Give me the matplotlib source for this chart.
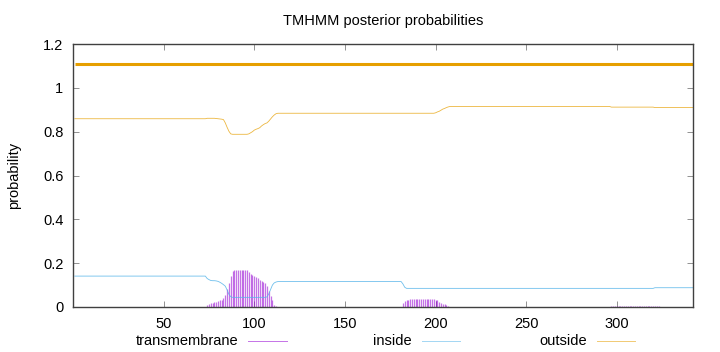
import matplotlib
matplotlib.use("Agg")
import matplotlib.pyplot as plt
from matplotlib.lines import Line2D

plt.rcParams['font.family'] = ['Liberation Sans', 'DejaVu Sans']

# posterior probabilities per residue (1..342)
residues = list(range(1, 343))

transmembrane = ([0.0] * 73
                 + [0.008, 0.012, 0.016, 0.02, 0.022, 0.024, 0.027, 0.03, 0.034, 0.04,
                    0.055, 0.08, 0.11, 0.14, 0.162, 0.168, 0.17, 0.171, 0.171, 0.171,
                    0.171, 0.17, 0.168, 0.16, 0.152, 0.147, 0.143, 0.138, 0.132, 0.125,
                    0.12, 0.115, 0.108, 0.095, 0.075, 0.05, 0.03, 0.01, 0.003]
                 + [0.0] * 69
                 + [0.02, 0.028, 0.032, 0.034] + [0.035] * 14
                 + [0.033, 0.03, 0.025, 0.02, 0.015, 0.012, 0.008, 0.004]
                 + [0.0] * 89
                 + [0.003] * 27
                 + [0.0] * 19)

inside = ([0.141] * 73
          + [0.13, 0.125, 0.121, 0.12, 0.12, 0.119, 0.117, 0.113, 0.108, 0.102,
             0.095, 0.078, 0.058, 0.047]
          + [0.044] * 19
          + [0.046, 0.06, 0.08, 0.1, 0.11, 0.114]
          + [0.116] * 69
          + [0.105, 0.09]
          + [0.085] * 137
          + [0.088] * 22)

outside = ([0.859] * 73
           + [0.861, 0.861, 0.861, 0.861, 0.861, 0.86, 0.859, 0.858, 0.857, 0.855,
              0.84, 0.82, 0.802, 0.79]
           + [0.788] * 9
           + [0.79, 0.795, 0.8, 0.807, 0.811, 0.814, 0.818, 0.826, 0.832, 0.837,
              0.84, 0.848, 0.858, 0.868, 0.876, 0.882]
           + [0.884] * 87
           + [0.886, 0.89, 0.893, 0.898, 0.903, 0.906, 0.91, 0.913]
           + [0.915] * 89
           + [0.912] * 24
           + [0.91] * 22)

# predicted topology bar (whole sequence outside)
topo_start = [1]
topo_end = [342]
topo_level = 1.11

c_tm = "#9400d3"
c_in = "#56b4e9"
c_out = "#e69f00"

fig = plt.figure(figsize=(7.2, 3.52), dpi=100)
ax = fig.add_axes([73 / 720, 1 - 307 / 352, 620 / 720, 263 / 352])

tm_x = [r for r, v in zip(residues, transmembrane) if v > 0]
tm_y = [v for v in transmembrane if v > 0]
ax.vlines(tm_x, 0, tm_y, color=c_tm, lw=0.9, alpha=0.55)
ax.plot(residues, inside, color=c_in, lw=0.6, alpha=0.85)
ax.plot(residues, outside, color=c_out, lw=0.6, alpha=0.75)
for s, e in zip(topo_start, topo_end):
    ax.plot([s, e], [topo_level, topo_level], color=c_out, lw=2.2, solid_capstyle="butt")

ax.set_xlim(0, 342)
ax.set_ylim(0, 1.2)
ax.set_xticks([50, 100, 150, 200, 250, 300])
ax.set_yticks([0, 0.2, 0.4, 0.6, 0.8, 1.0, 1.2])
ax.set_yticklabels(["0", "0.2", "0.4", "0.6", "0.8", "1", "1.2"])
ax.tick_params(direction="in", length=4, width=0.6, top=True, right=True,
               labelsize=10.5, colors="#808080", labelcolor="black", pad=7)
for sp in ax.spines.values():
    sp.set_color("#404040")
    sp.set_linewidth(1.0)

ax.set_title("TMHMM posterior probabilities", fontsize=10.5, pad=14)
ax.set_ylabel("probability", fontsize=10.5, labelpad=16)

# legend along the bottom, gnuplot style (text then sample line)
leg_y = 1 - 341 / 352
for label, color, text_right, l0, l1 in [("transmembrane", c_tm, 238, 248, 287),
                                         ("inside", c_in, 412, 422, 460),
                                         ("outside", c_out, 587, 597, 635)]:
    fig.text(text_right / 720, leg_y, label, ha="right", va="center", fontsize=10.5)
    fig.add_artist(Line2D([l0 / 720, l1 / 720], [leg_y, leg_y], color=color,
                          lw=0.7, alpha=0.55, transform=fig.transFigure))

fig.savefig("out.png", dpi=100)
